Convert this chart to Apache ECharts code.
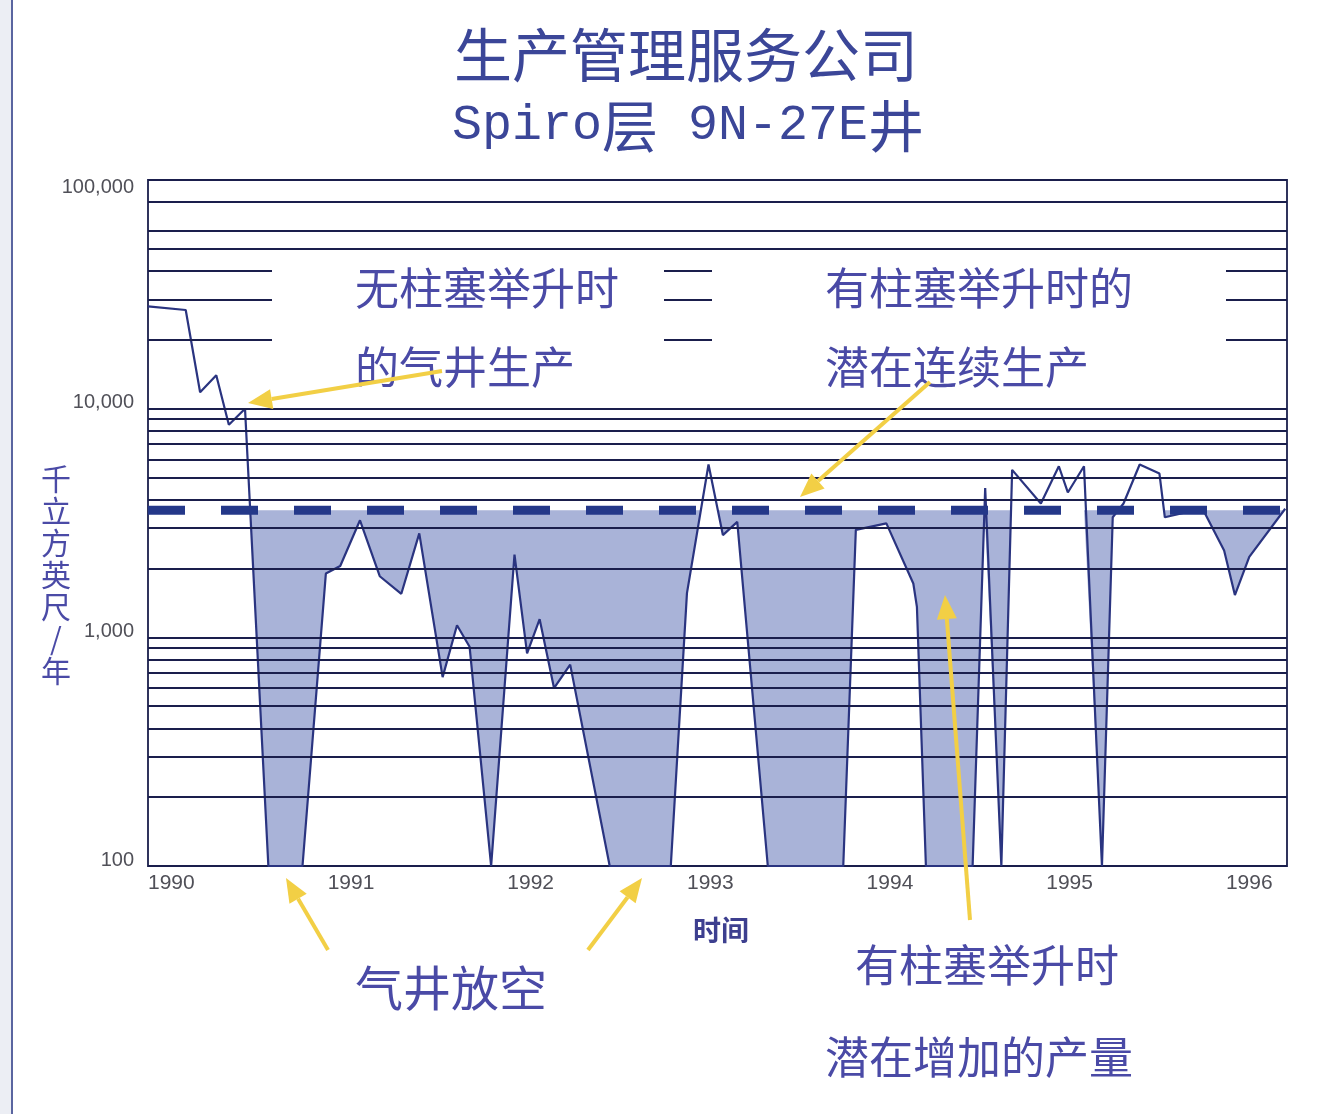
<!DOCTYPE html>
<html>
<head>
<meta charset="utf-8">
<script src="https://cdn.jsdelivr.net/npm/echarts@6/dist/echarts.min.js"></script>
<style>
  html, body { margin: 0; padding: 0; background: #fff; }
  #main { width: 1327px; height: 1114px; }
</style>
</head>
<body>
<div id="main"></div>
<script>
// 时间（年，小数表示）
const years = [1990.00, 1990.21, 1990.29, 1990.38, 1990.45, 1990.54, 1990.67, 1990.86, 1990.99,
  1991.07, 1991.18, 1991.29, 1991.41, 1991.51, 1991.64, 1991.72, 1991.79, 1991.91,
  1992.04, 1992.11, 1992.18, 1992.26, 1992.35, 1992.57, 1992.91,
  1993.00, 1993.12, 1993.20, 1993.28, 1993.45, 1993.87, 1993.94,
  1994.11, 1994.26, 1994.28, 1994.33, 1994.59, 1994.66, 1994.75, 1994.81, 1994.97,
  1995.07, 1995.12, 1995.21, 1995.31, 1995.37, 1995.43, 1995.52, 1995.63, 1995.66, 1995.80, 1995.87, 1995.99,
  1996.05, 1996.13, 1996.33];
// 产量（千立方英尺/年）
const production = [28000, 27000, 11800, 14000, 8500, 10000, 100, 100, 1900,
  2050, 3250, 1850, 1550, 2850, 670, 1130, 910, 100,
  2300, 850, 1200, 600, 760, 100, 100,
  1560, 5700, 2800, 3200, 100, 100, 2950,
  3150, 1720, 1360, 100, 100, 4500, 100, 5400, 3850,
  5600, 4300, 5600, 100, 3350, 3850, 5700, 5200, 3350, 3550, 3650, 2400,
  1530, 2250, 3650];
// 有柱塞举升时的潜在连续生产水平
const plungerLevel = 3600;
const xRange = [1990, 1996.34];
const yearLabels = [1990, 1991, 1992, 1993, 1994, 1995, 1996];
// 对数网格线
const gridValues = [200, 300, 400, 500, 600, 700, 800, 900, 1000,
  2000, 3000, 4000, 5000, 6000, 7000, 8000, 9000, 10000,
  20000, 30000, 40000, 50000, 60000, 80000];

const NAVY = '#1a1e4c';
const TEXT_BLUE = '#4a4aa6';
const YELLOW = '#f2cf45';

const linePts = years.map((x, i) => [x, production[i]]);

// 面积只填充产量低于柱塞举升水平的部分：在折线与水平线的交点处截断（对数坐标下求交）
const fillPts = [];
const lt = Math.log10(plungerLevel);
linePts.forEach((p, i) => {
  if (i > 0) {
    const q = linePts[i - 1];
    if ((q[1] - plungerLevel) * (p[1] - plungerLevel) < 0) {
      const a = Math.log10(q[1]), b = Math.log10(p[1]);
      const t = (a - lt) / (a - b);
      fillPts.push([q[0] + t * (p[0] - q[0]), plungerLevel]);
    }
  }
  fillPts.push([p[0], Math.min(p[1], plungerLevel)]);
});

function arrow(x1, y1, x2, y2) {
  const dx = x2 - x1, dy = y2 - y1, len = Math.hypot(dx, dy);
  const ux = dx / len, uy = dy / len;
  const hl = 24, hw = 10;
  const bx = x2 - ux * hl, by = y2 - uy * hl;
  return [
    {type: 'line', z: 30, shape: {x1, y1, x2: bx, y2: by}, style: {stroke: YELLOW, lineWidth: 4}},
    {type: 'polygon', z: 30, shape: {points: [[x2, y2], [bx - uy * hw, by + ux * hw], [bx + uy * hw, by - ux * hw]]},
      style: {fill: YELLOW}}
  ];
}

function label(text, x, y, size) {
  return {
    type: 'text', z: 25, x, y,
    style: {text, fontSize: size, fontFamily: '"Noto Sans CJK SC"', fill: TEXT_BLUE,
      align: 'left', verticalAlign: 'middle'}
  };
}

const chart = echarts.init(document.getElementById('main'));
chart.setOption({
  animation: false,
  backgroundColor: '#fff',
  grid: {left: 148, top: 180, width: 1139, height: 686, show: true,
    borderColor: NAVY, borderWidth: 1.8, backgroundColor: 'transparent'},
  xAxis: {
    type: 'value', min: xRange[0], max: xRange[1],
    axisLine: {show: false}, axisTick: {show: false}, splitLine: {show: false},
    axisLabel: {customValues: yearLabels, align: 'left', margin: 7, fontSize: 21,
      color: '#505058', fontFamily: 'Liberation Sans', formatter: v => String(Math.round(v))}
  },
  yAxis: {
    type: 'log', logBase: 10, min: 100, max: 100000,
    axisLine: {show: false}, axisTick: {show: false}, splitLine: {show: false},
    axisLabel: {
      margin: 14, color: '#505058',
      formatter: v => (v >= 100000 ? '{top|' : '{n|') + Number(v).toLocaleString('en-US') + '}',
      rich: {
        top: {fontSize: 20, fontFamily: 'Liberation Sans', color: '#505058', padding: [14, 0, 0, 0]},
        n: {fontSize: 20, fontFamily: 'Liberation Sans', color: '#505058', padding: [0, 0, 12, 0]}
      }
    }
  },
  series: [
    {
      name: 'fill', type: 'line', z: 1, data: fillPts, symbol: 'none', silent: true,
      lineStyle: {width: 0, opacity: 0},
      areaStyle: {color: '#a9b3d8', opacity: 1, origin: plungerLevel}
    },
    {
      name: 'grid', type: 'line', z: 3, data: [], silent: true,
      markLine: {
        silent: true, symbol: ['none', 'none'], label: {show: false},
        lineStyle: {color: NAVY, width: 1.8, type: 'solid'},
        emphasis: {disabled: true},
        data: gridValues.map(v => ({yAxis: v}))
      }
    },
    {
      name: 'production', type: 'line', z: 4, data: linePts, symbol: 'none',
      lineStyle: {color: '#2a3480', width: 2.2}
    },
    {
      name: 'plunger', type: 'line', z: 5, symbol: 'none',
      data: [[xRange[0], plungerLevel], [xRange[1], plungerLevel]],
      lineStyle: {color: '#243889', width: 9, type: [37, 36]}
    }
  ],
  graphic: [
    // 左侧边框
    {type: 'rect', z: 0, shape: {x: 0, y: 0, width: 11, height: 1114}, style: {fill: '#eceef4'}},
    {type: 'line', z: 0, shape: {x1: 12, y1: 0, x2: 12, y2: 1114}, style: {stroke: '#5a65a0', lineWidth: 2}},
    // 注释文字底框
    {type: 'rect', z: 20, shape: {x: 272, y: 258, width: 392, height: 136}, style: {fill: '#fff'}},
    {type: 'rect', z: 20, shape: {x: 712, y: 258, width: 514, height: 136}, style: {fill: '#fff'}},
    // 标题
    {type: 'text', z: 25, x: 686, y: 55,
      style: {text: '生产管理服务公司', fontSize: 58, fontFamily: '"Noto Sans CJK SC"', fill: '#3b4698',
        align: 'center', verticalAlign: 'middle'}},
    {type: 'text', z: 25, x: 688, y: 126,
      style: {text: '{a|Spiro}{b|层}{a| 9N-27E}{b|井}', align: 'center', verticalAlign: 'middle',
        rich: {
          a: {fontSize: 50, fontFamily: '"Liberation Mono"', fill: '#3b4698'},
          b: {fontSize: 56, fontFamily: '"Noto Sans CJK SC"', fill: '#3b4698'}
        }}},
    // 轴名
    {type: 'text', z: 25, x: 56, y: 575,
      style: {text: '千\n立\n方\n英\n尺\n/\n年', fontSize: 30, lineHeight: 32,
        fontFamily: '"Noto Sans CJK SC"', fill: TEXT_BLUE, align: 'center', verticalAlign: 'middle'}},
    {type: 'text', z: 25, x: 721, y: 930,
      style: {text: '时间', fontSize: 28, fontWeight: 'bold', fontFamily: '"Noto Sans CJK SC"',
        fill: '#3d3f8f', align: 'center', verticalAlign: 'middle'}},
    // 注释
    label('无柱塞举升时', 355, 288, 44),
    label('的气井生产', 355, 367, 44),
    label('有柱塞举升时的', 825, 288, 44),
    label('潜在连续生产', 825, 367, 44),
    label('气井放空', 355, 988, 48),
    label('有柱塞举升时', 855, 965, 44),
    label('潜在增加的产量', 825, 1057, 44),
    // 箭头
    ...arrow(442, 371, 248, 403),
    ...arrow(930, 382, 800, 497),
    ...arrow(970, 920, 945, 595),
    ...arrow(328, 950, 286, 878),
    ...arrow(588, 950, 642, 878)
  ]
});
</script>
</body>
</html>
